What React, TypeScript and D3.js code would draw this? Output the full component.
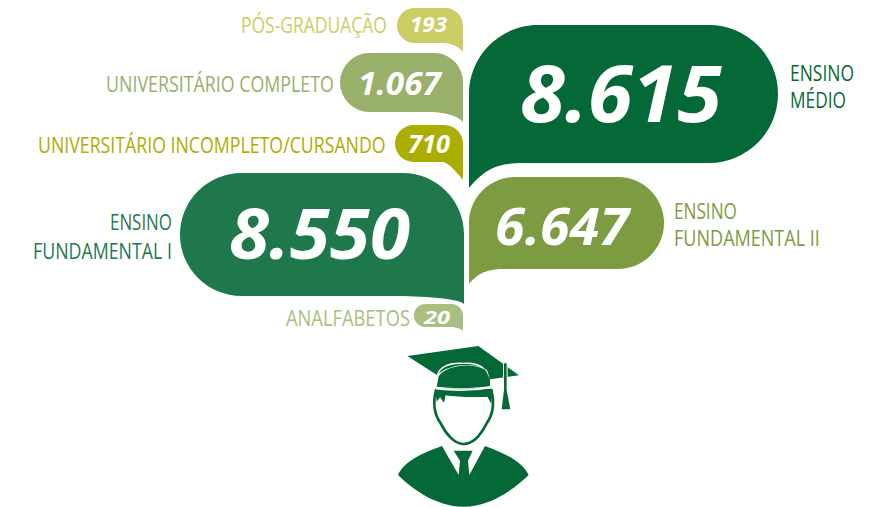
import React, { useLayoutEffect, useRef, useState } from "react";
import * as d3 from "d3";

const categories = ["Pós-Graduação", "Universitário Completo", "Universitário Incompleto/Cursando", "Ensino Médio", "Ensino Fundamental II", "Ensino Fundamental I", "Analfabetos"];
const values = [193, 1067, 710, 8615, 6647, 8550, 20];
const labelLines = [
  ["PÓS-GRADUAÇÃO"],
  ["UNIVERSITÁRIO COMPLETO"],
  ["UNIVERSITÁRIO INCOMPLETO/CURSANDO"],
  ["ENSINO", "MÉDIO"],
  ["ENSINO", "FUNDAMENTAL II"],
  ["ENSINO", "FUNDAMENTAL I"],
  ["ANALFABETOS"],
];
const colors = ["#cccd63", "#98b069", "#abae00", "#056937", "#7d9b40", "#1e784c", "#a9bf82"];
const textColors = ["#cccd63", "#98b069", "#abae00", "#056937", "#7d9b40", "#1e784c", "#a9bf82"];

// Layout of each bubble: l, r, t, b, tip y, corner radius, tail side
const boxes = [
  { l: 397, r: 463, t: 8, b: 43, tip: 52, rad: 17.5, side: "r" },
  { l: 340, r: 463, t: 53, b: 112, tip: 122, rad: 29, side: "r" },
  { l: 395, r: 463, t: 125, b: 162, tip: 180, rad: 18.5, side: "r" },
  { l: 469, r: 778, t: 25, b: 163, tip: 188, rad: 69, side: "l" },
  { l: 469, r: 664, t: 177, b: 269, tip: 284, rad: 46, side: "l" },
  { l: 180, r: 464, t: 173, b: 296, tip: 304, rad: 61, side: "r" },
  { l: 414, r: 463, t: 304, b: 327, tip: 331, rad: 11.5, side: "r" },
];
// number text: x-start, width, baseline, font size
const numPos = [
  { x: 410, w: 37, y: 32, fs: 22 },
  { x: 358, w: 83, y: 95, fs: 33 },
  { x: 408, w: 42, y: 153, fs: 25 },
  { x: 520, w: 202, y: 122, fs: 79 },
  { x: 495, w: 134, y: 245, fs: 52 },
  { x: 229, w: 181, y: 259, fs: 69 },
  { x: 424, w: 26, y: 324, fs: 18 },
];
// label lines: x-start, width, baseline
const labPos = [
  [{ x: 241, w: 146, y: 33 }],
  [{ x: 106, w: 228, y: 92 }],
  [{ x: 38, w: 348, y: 153 }],
  [{ x: 790, w: 64, y: 81 }, { x: 790, w: 56, y: 108 }],
  [{ x: 674, w: 63, y: 219 }, { x: 674, w: 146, y: 246 }],
  [{ x: 110, w: 62, y: 230 }, { x: 33, w: 139, y: 259 }],
  [{ x: 286, w: 124, y: 326 }],
];

const fmt = d3.formatLocale({ decimal: ",", thousands: ".", grouping: [3], currency: ["", ""] }).format(",d");

function bubble(b: (typeof boxes)[number]) {
  const p = d3.path();
  const { l, r, t, b: bt, tip, rad, side } = b;
  const k = rad * 0.45;
  if (side === "r") {
    p.moveTo(r, tip);
    p.bezierCurveTo(r - (tip - bt) * 0.7, bt + (tip - bt) * 0.15, r - rad * 0.9, bt, r - rad * 1.2, bt);
    p.lineTo(l + (bt - t) / 2, bt);
    p.arc(l + (bt - t) / 2, (t + bt) / 2, (bt - t) / 2, Math.PI / 2, (3 * Math.PI) / 2);
    p.lineTo(r - rad, t);
    p.bezierCurveTo(r - k, t, r, t + k, r, t + rad);
    p.closePath();
  } else {
    p.moveTo(l, tip);
    p.bezierCurveTo(l + (tip - bt) * 0.7, bt + (tip - bt) * 0.15, l + rad * 0.45, bt, l + rad * 0.8, bt);
    p.lineTo(r - (bt - t) / 2, bt);
    p.arc(r - (bt - t) / 2, (t + bt) / 2, (bt - t) / 2, Math.PI / 2, -Math.PI / 2, true);
    p.lineTo(l + rad, t);
    p.bezierCurveTo(l + k, t, l, t + k, l, t + rad);
    p.closePath();
  }
  return p.toString();
}

const DARK = "#056937";

// Text squeezed horizontally so its drawn width is exactly w.
function FitText({ x, y, w, children, ...rest }: any) {
  const ref = useRef<SVGTextElement>(null);
  const [sx, setSx] = useState(1);
  useLayoutEffect(() => {
    const n = ref.current ? ref.current.getComputedTextLength() : 0;
    if (n > 0) setSx(w / n);
  }, [w, children]);
  return (
    <text ref={ref} transform={`translate(${x},${y}) scale(${sx},1)`} {...rest}>
      {children}
    </text>
  );
}

function Graduate() {
  return (
    <g transform="translate(380,340) scale(0.3333)">
      {/* body */}
      <path fill={DARK} d="M54 405 C70 370 110 345 186 318 L236 405 L248 360 L268 405 L315 318 C370 340 425 360 446 405 C400 450 330 500 250 500 C170 500 100 450 54 405 Z" />
      <path fill={DARK} d="M221 332 L278 332 L264 362 L268 405 L236 405 L240 362 Z" />
      {/* head */}
      <path fill="#fff" stroke={DARK} strokeWidth="8" d="M168 150 C158 190 164 225 182 250 C197 280 222 312 250 312 C280 312 305 280 320 250 C338 225 344 190 334 150 Z" />
      <path fill={DARK} d="M166 148 L338 148 L334 192 L322 170 C290 172 230 172 197 166 L192 188 L180 172 L170 185 Z" />
      {/* board */}
      <path fill={DARK} d="M82 48 L295 18 L417 106 L330 118 L322 92 C300 70 210 65 172 106 Z" />
      {/* crown */}
      <path fill={DARK} d="M170 140 L176 108 C205 72 285 68 318 92 L330 118 L330 138 C280 146 220 146 170 140 Z" />
      <path fill="none" stroke="#fff" strokeWidth="4" d="M172 106 C180 80 205 68 250 70 C280 68 300 76 310 84" />
      <path fill="none" stroke="#fff" strokeWidth="5" d="M168 146 C220 152 280 152 334 142" />
      {/* tassel */}
      <path fill="none" stroke="#fff" strokeWidth="14" d="M376 70 L376 112" />
      <path fill={DARK} d="M372 70 L380 70 L380 150 L391 208 L365 208 L372 150 Z" />
    </g>
  );
}

export default function App() {
  return (
    <svg width={869} height={507} viewBox="0 0 869 507" style={{ position: "absolute", left: 0, top: 0, background: "#fff" }}>
      {categories.map((c, i) => (
        <g key={c}>
          <path d={bubble(boxes[i])} fill={colors[i]} />
          <FitText
            x={numPos[i].x}
            y={numPos[i].y}
            w={numPos[i].w}
            fontFamily="'Open Sans', sans-serif"
            fontWeight={700}
            fontStyle="italic"
            fontSize={numPos[i].fs}
            fill="#fff"
          >
            {fmt(values[i])}
          </FitText>
          {labelLines[i].map((line, j) => (
            <FitText
              key={j}
              x={labPos[i][j].x}
              y={labPos[i][j].y}
              w={labPos[i][j].w}
              fontFamily="'Open Sans', sans-serif"
              fontWeight={500}
              fontSize={22}
              fill={textColors[i]}
            >
              {line}
            </FitText>
          ))}
        </g>
      ))}
      <Graduate />
    </svg>
  );
}
